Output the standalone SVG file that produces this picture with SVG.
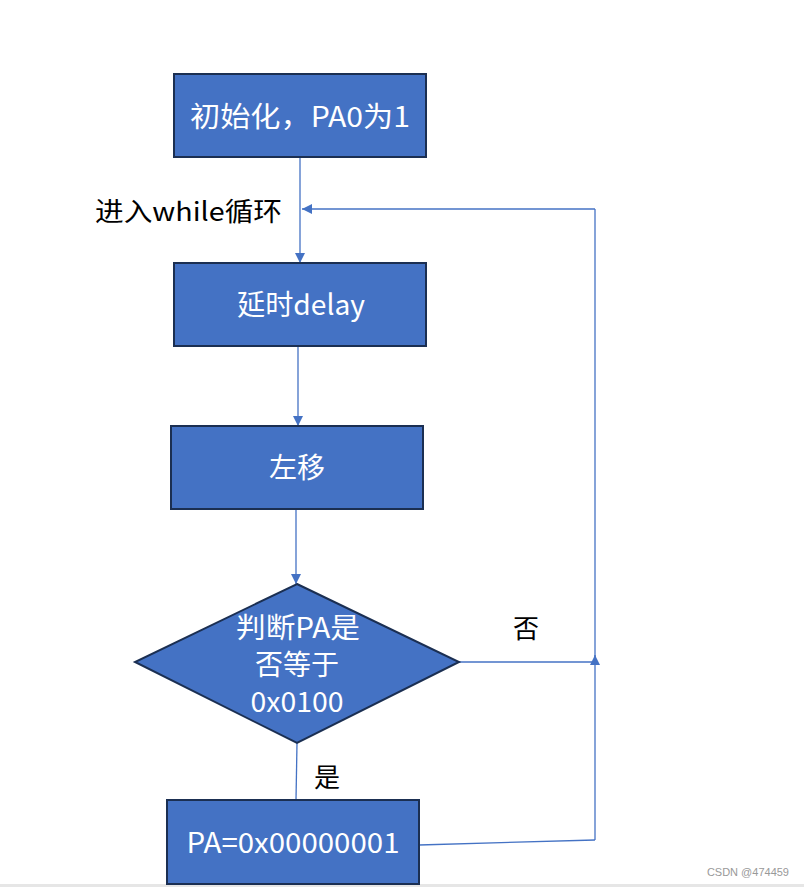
<svg xmlns="http://www.w3.org/2000/svg" width="804" height="887" viewBox="0 0 804 887">
<style>
.box{fill:#4472C4;stroke:#1B2F52;stroke-width:2}
.t{font-family:"Noto Sans CJK SC","Liberation Sans",sans-serif;fill:#fff;font-size:28px;text-anchor:middle}
.lbl{font-family:"Noto Sans CJK SC","Liberation Sans",sans-serif;fill:#000;font-size:26px}
.c{stroke:#4472C4;stroke-width:1.3;fill:none}
</style>
<defs>
<marker id="arr" viewBox="0 0 10 10" refX="10" refY="5" markerWidth="10" markerHeight="10" markerUnits="userSpaceOnUse" orient="auto">
<path d="M0,0 L10,5 L0,10 Z" fill="#4472C4"/>
</marker>
</defs>
<rect width="804" height="887" fill="#fff"/>
<rect x="0" y="884" width="804" height="3" fill="#e6e6e6"/>
<g id="connectors">
<line class="c" x1="300" y1="158" x2="300" y2="263" marker-end="url(#arr)"/>
<line class="c" x1="298" y1="347" x2="298" y2="426" marker-end="url(#arr)"/>
<line class="c" x1="296" y1="510" x2="296" y2="584" marker-end="url(#arr)"/>
<line class="c" x1="297" y1="743" x2="296" y2="800"/>
<line class="c" x1="459" y1="662" x2="595" y2="662"/>
<line class="c" x1="419" y1="845" x2="595" y2="840"/>
<line class="c" x1="595" y1="840" x2="595" y2="655" marker-end="url(#arr)"/>
<line class="c" x1="595" y1="662" x2="595" y2="209"/>
<line class="c" x1="595" y1="209" x2="302" y2="209" marker-end="url(#arr)"/>
</g>
<g id="n1"><rect class="box" x="174" y="74" width="252" height="83"/><text class="t" x="300" y="127" textLength="220" lengthAdjust="spacingAndGlyphs">初始化，PA0为1</text></g>
<g id="n2"><rect class="box" x="174" y="263" width="252" height="83"/><text class="t" x="301" y="315" textLength="128" lengthAdjust="spacingAndGlyphs">延时delay</text></g>
<g id="n3"><rect class="box" x="171" y="426" width="252" height="83"/><text class="t" x="297" y="478">左移</text></g>
<g id="n4"><polygon class="box" points="297,584 459,662 297,743 135,662"/>
<text class="t" x="298" y="638" textLength="124" lengthAdjust="spacingAndGlyphs">判断PA是</text>
<text class="t" x="297" y="675">否等于</text>
<text class="t" x="297" y="712" textLength="93" lengthAdjust="spacingAndGlyphs">0x0100</text></g>
<g id="n5"><rect class="box" x="167" y="800" width="252" height="84"/><text class="t" x="293" y="853" textLength="213" lengthAdjust="spacingAndGlyphs">PA=0x00000001</text></g>
<text class="lbl" x="95" y="221" textLength="187" lengthAdjust="spacingAndGlyphs">进入while循环</text>
<text class="lbl" x="513" y="638">否</text>
<text class="lbl" x="314" y="787">是</text>
<text x="789" y="876" font-family="Liberation Sans,sans-serif" font-size="11" fill="#999" text-anchor="end">CSDN @474459</text>
</svg>
